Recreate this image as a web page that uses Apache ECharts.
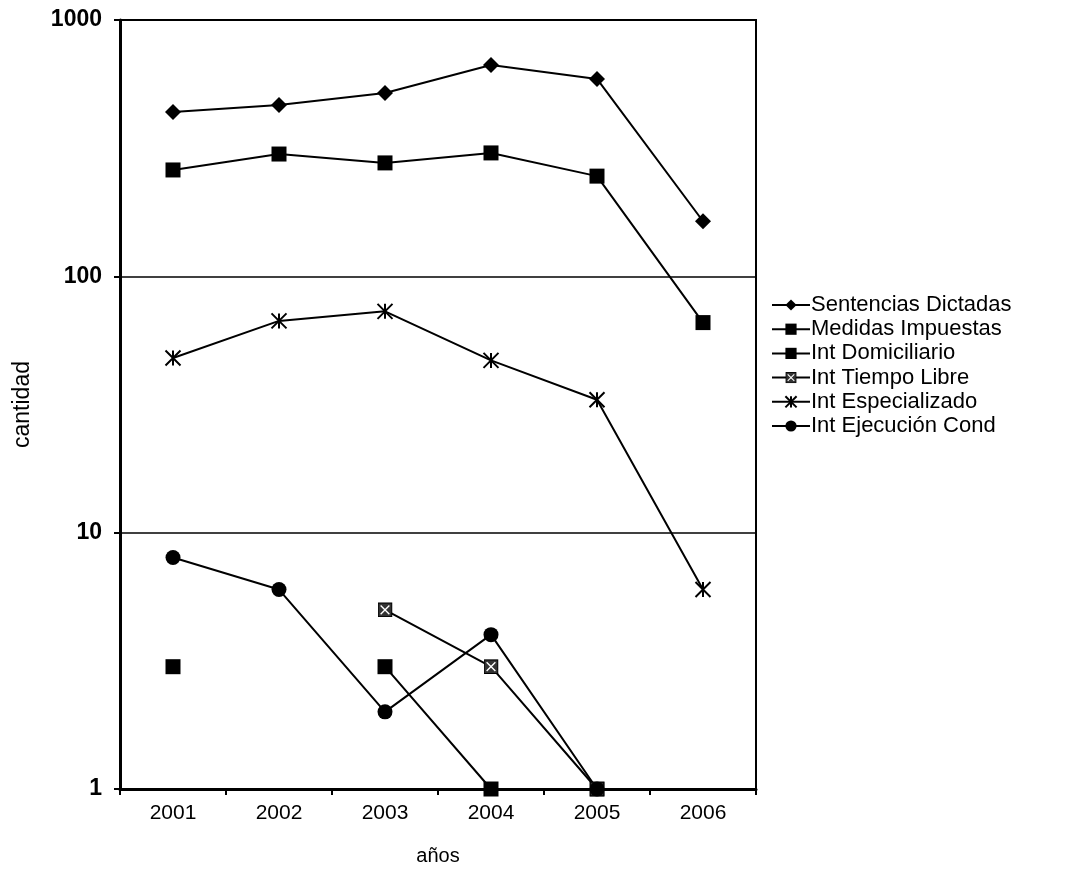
<!DOCTYPE html>
<html>
<head>
<meta charset="utf-8">
<script src="https://cdn.jsdelivr.net/npm/echarts@6/dist/echarts.min.js"></script>
<style>html,body{margin:0;padding:0;background:#fff}#c{width:1080px;height:879px}</style>
</head>
<body>
<div id="c"></div>
<script>
const years = ['2001', '2002', '2003', '2004', '2005', '2006'];
const sentenciasDictadas = [438, 466, 519, 667, 589, 164];
const medidasImpuestas = [260, 300, 277, 303, 246, 66];
const intDomiciliario = [3, null, 3, 1, 1, null];
const intTiempoLibre = [null, null, 5, 3, 1, null];
const intEspecializado = [48, 67, 73, 47, 33, 6];
const intEjecucionCond = [8, 6, 2, 4, 1, null];
const yTicks = [1, 10, 100, 1000];

const boxX = 'image://data:image/svg+xml;charset=utf-8,' + encodeURIComponent(
  "<svg xmlns='http://www.w3.org/2000/svg' width='24' height='24' viewBox='0 0 24 24'>" +
  "<rect x='1' y='1' width='22' height='22' fill='#333' stroke='#000' stroke-width='2'/>" +
  "<path d='M5,5L19,19M19,5L5,19' stroke='#fff' stroke-width='2.2'/></svg>");
const asterisk = 'path://M5,0L5,10M0,0L10,10M10,0L0,10';

const FONT = 'Liberation Sans, Arial, sans-serif';
const chart = echarts.init(document.getElementById('c'), null, {renderer: 'canvas'});

function mk(name, data, symbol, size, extra) {
  return Object.assign({
    name: name, type: 'line', data: data, symbol: symbol, symbolSize: size,
    showAllSymbol: true, connectNulls: false,
    lineStyle: {color: '#000', width: 2},
    itemStyle: {color: '#000'},
    emphasis: {disabled: true},
    z: 3
  }, extra || {});
}

chart.setOption({
  animation: false,
  backgroundColor: '#fff',
  grid: {left: 120, right: 324, top: 20, bottom: 90, containLabel: false, outerBoundsMode: 'none',
    show: true, borderColor: '#000', borderWidth: 2, backgroundColor: 'transparent'},
  legend: {
    orient: 'vertical', left: 766, top: 289,
    itemWidth: 38, itemHeight: 14, itemGap: 2.2,
    textStyle: {fontFamily: FONT, fontSize: 22, lineHeight: 20, color: '#000', padding: [0, 0, 0, -4]},
    data: ['Sentencias Dictadas', 'Medidas Impuestas', 'Int Domiciliario', 'Int Tiempo Libre', 'Int Especializado', 'Int Ejecución Cond']
  },
  xAxis: {
    type: 'category', data: years, boundaryGap: true,
    name: 'años', nameLocation: 'middle', nameGap: 57,
    nameTextStyle: {fontFamily: FONT, fontSize: 20, color: '#000'},
    axisLine: {lineStyle: {color: '#000', width: 3}},
    axisTick: {show: true, length: 6, lineStyle: {color: '#000', width: 2}},
    axisLabel: {fontFamily: FONT, fontSize: 21, color: '#000', margin: 14},
    splitLine: {show: false}
  },
  yAxis: {
    type: 'log', logBase: 10, min: 1, max: 1000,
    name: 'cantidad', nameLocation: 'middle', nameGap: 86, nameRotate: 90,
    nameTextStyle: {fontFamily: FONT, fontSize: 23, color: '#000'},
    axisLine: {show: true, lineStyle: {color: '#000', width: 3}},
    axisTick: {show: true, length: 6, lineStyle: {color: '#000', width: 2}},
    axisLabel: {fontFamily: FONT, fontSize: 23, fontWeight: 'bold', color: '#000', margin: 18,
      formatter: function (v) { return yTicks.indexOf(Math.round(v)) >= 0 ? String(Math.round(v)) : ''; }},
    splitLine: {show: true, lineStyle: {color: '#000', width: 1.5}},
    minorTick: {show: false}
  },
  series: [
    mk('Sentencias Dictadas', sentenciasDictadas, 'diamond', [16, 16]),
    mk('Medidas Impuestas', medidasImpuestas, 'rect', 15),
    mk('Int Domiciliario', intDomiciliario, 'rect', 15),
    mk('Int Tiempo Libre', intTiempoLibre, boxX, 15),
    mk('Int Especializado', intEspecializado, asterisk, 15, {itemStyle: {color: 'transparent', borderColor: '#000', borderWidth: 2}}),
    mk('Int Ejecución Cond', intEjecucionCond, 'circle', 15)
  ]
});
</script>
</body>
</html>
